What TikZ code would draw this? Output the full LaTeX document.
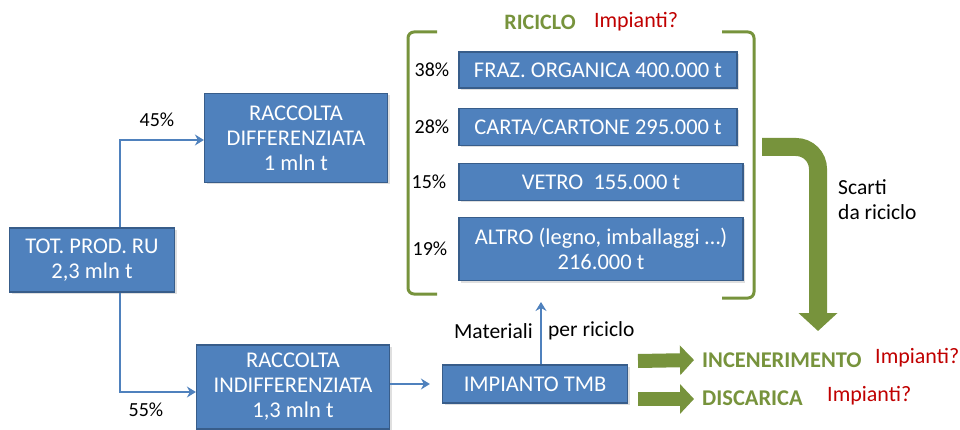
\documentclass[tikz,border=0pt]{standalone}
\usepackage{fontspec}
\setmainfont{Carlito}
\usetikzlibrary{positioning}
\usetikzlibrary {arrows.meta}
\usetikzlibrary{shadows}
\definecolor{boxblue}{HTML}{4F81BD}
\definecolor{boxedge}{HTML}{385D8A}
\definecolor{olive}{HTML}{77933C}
\definecolor{askred}{HTML}{C00000}
\tikzset{flowbox/.style={rectangle,draw=boxedge,fill=boxblue,line width=1.2pt,
text=white,align=center,inner sep=2pt,
font=\fontsize{22.5}{25}\selectfont,
drop shadow={opacity=0.25,shadow xshift=2pt,shadow yshift=-2pt}}}
\tikzset{flowline/.style={draw=boxblue,line width=2.8pt,
-{Stealth[length=9pt,width=11pt,inset=3pt]}}}
\tikzset{pct/.style={inner sep=0pt,font=\fontsize{20}{22}\selectfont}}
\tikzset{bigarrow/.style={draw=olive,line width=14pt,
-{Triangle[length=14pt,width=29pt]}}}
\tikzset{greenword/.style={inner sep=0pt,anchor=west,text=olive,
font=\fontsize{22.5}{24}\selectfont\bfseries}}
\tikzset{askword/.style={inner sep=0pt,anchor=west,text=askred,
font=\fontsize{22}{24}\selectfont}}

\begin{document}
\begin{tikzpicture}[x=1pt,y=-1pt]
        \useasboundingbox (0,0) rectangle (960,430);

        % left column
        \node[flowbox,minimum width=165pt,minimum height=64pt] (tot) at (92,260) {TOT. PROD. RU\\2,3 mln t};
        \node[flowbox,minimum width=183pt,minimum height=89pt] (diff) at (296,138) {RACCOLTA\\DIFFERENZIATA\\1 mln t};
        \node[flowbox,minimum width=193pt,minimum height=84pt] (indiff) at (293,387) {RACCOLTA\\INDIFFERENZIATA\\1,3 mln t};
        \node[flowbox,minimum width=185pt,minimum height=38pt] (tmb) at (535,384) {IMPIANTO TMB};

        \draw[flowline] ([xshift=28pt]tot.north) |- ([yshift=-2pt]diff.west);
        \draw[flowline] ([xshift=28pt]tot.south) |- ([yshift=-5pt]indiff.west);
        \node[pct] (p45) at (157,120) {45\%};
        \node[pct] (p55) at (146,410) {55\%};
        \draw[flowline,shorten >=12pt] (indiff.east |- tmb.west) -- (tmb.west);

        % riciclo
        \node[flowbox,minimum width=278pt,minimum height=36pt] (fraz) at (598,70) {FRAZ. ORGANICA 400.000 t};
        \node[flowbox,minimum width=278pt,minimum height=37pt] (carta) at (598,127) {CARTA/CARTONE 295.000 t};
        \node[flowbox,minimum width=284pt,minimum height=37pt] (vetro) at (601,182) {VETRO\ \ 155.000 t};
        \node[flowbox,minimum width=284pt,minimum height=63pt] (altro) at (601,249) {ALTRO (legno, imballaggi \dots)\\216.000 t};

        \node[pct] (p38) [left=9pt of fraz] {38\%};
        \node[pct] (p28) [left=9pt of carta] {28\%};
        \node[pct] (p15) [left=12pt of vetro] {15\%};
        \node[pct] (p19) [left=11pt of altro] {19\%};

        \coordinate (brLtop) at (437,32);
        \coordinate (brLbot) at (437,294);
        \coordinate (brRtop) at (722,32);
        \coordinate (brRbot) at (722,298);
        \draw[olive,line width=3pt,rounded corners=6pt] (brLtop) -- (408,32) -- (408,294) -- (brLbot);
        \draw[olive,line width=3pt,rounded corners=6pt] (brRtop) -- (754,32) -- (754,298) -- (brRbot);

        \node[greenword,anchor=center,font=\fontsize{22}{24}\selectfont\bfseries] (riciclo) at (540,22) {RICICLO};
        \node[askword] (askric) [right=18pt of riciclo] {Impianti?};

        \coordinate (ricbase) at (541,302);
        \draw[flowline] (tmb.north -| ricbase) -- (ricbase);
        \node[pct,anchor=east,font=\fontsize{21.5}{24}\selectfont] (mat) at (533,331) {Materiali};
        \node[pct,anchor=west,font=\fontsize{21.5}{24}\selectfont] (perric) at (548,331) {per riciclo};

        % scarti
        \coordinate (scartiA) at (762,147);
        \coordinate (scartiB) at (818,331);
        \draw[olive,line width=18pt,rounded corners=22pt,
              -{Triangle[length=18pt,width=38pt]}] (scartiA) -| (scartiB);
        \node[pct,anchor=west,align=left,font=\fontsize{21.5}{25}\selectfont] (scarti) at (838,200) {Scarti\\da riciclo};

        % uscite
        \node[greenword] (incen) at (702,360) {INCENERIMENTO};
        \node[askword] (askinc) at (875,358) {Impianti?};
        \node[greenword] (disc) at (702,398) {DISCARICA};
        \node[askword] (askdisc) at (827,396) {Impianti?};
        \coordinate (incstart) at (638,361);
        \coordinate (discstart) at (638,399);
        \draw[bigarrow] (incstart) -- ([xshift=-8pt]incen.west);
        \draw[bigarrow] (discstart) -- ([xshift=-8pt]disc.west |- discstart);

    \end{tikzpicture}
\end{document}
